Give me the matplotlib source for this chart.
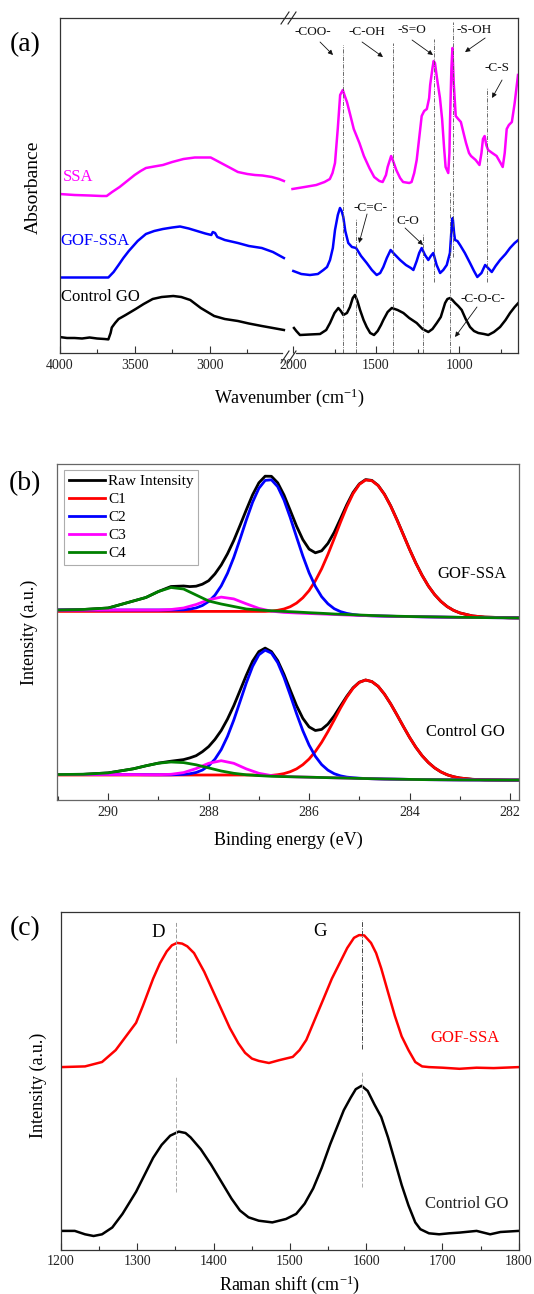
import matplotlib
matplotlib.use('Agg')
import matplotlib.pyplot as plt
from matplotlib.lines import Line2D
from matplotlib.ticker import FixedLocator, MultipleLocator

plt.rcParams['font.family'] = ['Liberation Serif', 'DejaVu Serif']
plt.rcParams['mathtext.fontset'] = 'custom'
plt.rcParams['mathtext.rm'] = 'Liberation Serif'
plt.rcParams['mathtext.it'] = 'Liberation Serif:italic'
plt.rcParams['mathtext.bf'] = 'Liberation Serif:bold'

# ---------------- (a) FTIR data: (wavenumber, absorbance a.u.) ----------------
SSA_LEFT = [(4000, 159), (3900, 158), (3800, 157.5), (3720, 157), (3686, 157), (3650, 161),
            (3600, 166), (3550, 172), (3500, 178), (3460, 182), (3425, 185), (3370, 186.5),
            (3312, 188), (3250, 191), (3175, 194), (3100, 195.5), (3050, 195.5), (2994, 195.5),
            (2950, 192), (2900, 188), (2850, 184), (2813, 181), (2750, 179), (2700, 178),
            (2650, 177.5), (2587, 176), (2540, 174), (2507, 172)]
GOF_LEFT = [(4000, 75.5), (3800, 75.5), (3675, 75.5), (3640, 81), (3607, 88), (3575, 95),
            (3539, 102), (3480, 112), (3425, 119), (3370, 122), (3312, 124), (3250, 125.5),
            (3198, 126.5), (3140, 124.5), (3085, 122), (3030, 119.5), (2990, 118), (2980, 121),
            (2965, 120), (2950, 116), (2900, 113), (2813, 110), (2740, 107), (2654, 105),
            (2580, 101), (2507, 95)]
CTRL_LEFT = [(4000, 16), (3950, 15), (3900, 15), (3850, 14.5), (3800, 15.5), (3750, 14.5),
             (3700, 14), (3675, 13.6), (3660, 20), (3652, 25.5), (3630, 30), (3607, 34),
             (3560, 38), (3493, 44), (3440, 49), (3380, 54), (3320, 56), (3243, 57), (3190, 56),
             (3130, 53), (3060, 45), (2971, 37), (2900, 34), (2813, 32), (2740, 29.5), (2654, 27),
             (2580, 25), (2507, 23)]
SSA_RIGHT = [(2003, 164), (1930, 166), (1860, 168), (1810, 171), (1778, 174), (1762, 180),
             (1747, 190), (1730, 225), (1716, 258), (1700, 263), (1688, 257), (1675, 251),
             (1655, 238), (1634, 224), (1600, 210), (1573, 197), (1540, 185), (1511, 176),
             (1480, 172), (1460, 171), (1440, 178), (1430, 186), (1409, 197), (1395, 191),
             (1378, 183), (1355, 175), (1337, 171), (1300, 170), (1286, 171), (1270, 180),
             (1255, 193), (1240, 215), (1225, 237), (1210, 242), (1194, 244), (1180, 255),
             (1174, 268), (1160, 285), (1153, 292), (1145, 290), (1133, 275), (1115, 255),
             (1102, 234), (1090, 205), (1081, 186), (1065, 180), (1058, 200), (1054, 234),
             (1046, 285), (1040, 305), (1032, 270), (1020, 237), (1005, 234), (989, 231),
             (970, 218), (958, 210), (940, 200), (928, 197), (900, 193), (877, 188), (865, 200),
             (856, 214), (846, 217), (836, 208), (825, 203), (800, 200), (774, 197), (750, 190),
             (737, 186), (725, 200), (713, 224), (700, 228), (682, 231), (665, 250), (645, 278)]
GOF_RIGHT = [(1998, 82), (1950, 79), (1898, 78), (1850, 79), (1817, 83), (1795, 86), (1777, 93),
             (1760, 105), (1747, 123), (1730, 138), (1717, 145), (1707, 142), (1697, 136),
             (1685, 122), (1667, 110), (1645, 106), (1620, 105), (1590, 97), (1556, 90),
             (1525, 83), (1496, 78), (1475, 80), (1456, 86), (1435, 95), (1412, 103), (1390, 99),
             (1355, 93), (1320, 88), (1290, 85), (1275, 83), (1255, 92), (1240, 100), (1225, 105),
             (1205, 98), (1185, 93), (1170, 97), (1155, 100), (1135, 88), (1114, 80), (1095, 83),
             (1074, 88), (1055, 100), (1045, 125), (1038, 135), (1030, 120), (1024, 113),
             (1010, 112), (994, 108), (965, 100), (934, 90), (910, 82), (890, 76), (865, 80),
             (843, 88), (825, 85), (803, 81), (780, 87), (753, 93), (720, 99), (693, 105),
             (665, 110), (643, 113)]
CTRL_RIGHT = [(1994, 25), (1980, 22), (1958, 18), (1900, 18.5), (1837, 19), (1800, 23), (1777, 30),
              (1750, 40), (1727, 45), (1712, 42), (1697, 38), (1675, 40), (1657, 46), (1640, 55),
              (1627, 58), (1612, 52), (1596, 43), (1575, 33), (1556, 26), (1535, 20), (1512, 18),
              (1490, 22), (1470, 28), (1456, 33), (1430, 41), (1405, 45), (1370, 43), (1335, 40),
              (1300, 35), (1255, 30), (1220, 24), (1185, 21), (1160, 24), (1134, 30), (1110, 36),
              (1084, 50), (1070, 54), (1054, 55), (1040, 53), (1024, 50), (1005, 47), (984, 43),
              (960, 34), (934, 26), (910, 22), (884, 20), (850, 19), (824, 18), (790, 21),
              (753, 26), (720, 33), (693, 40), (665, 46), (643, 50)]

FTIR_LINES_W = [1699, 1620, 1398, 1217, 1151, 1054, 1036, 831]
FTIR_LINES_TOP = [308, 134, 310, 120, 314, 161, 331, 266]
FTIR_LINES_BOT = [0, 0, 0, 0, 71, 0, 96, 71]

FTIR_ANN_TEXT = ['-COO-', '-C-OH', '-S=O', '-S-OH', '-C-S', '-C=C-', 'C-O', '-C-O-C-']
FTIR_ANN_TXT_XY = [(1880, 321), (1554, 321), (1283, 323), (910, 323), (771, 285),
                   (1536, 145), (1307, 132), (855, 54)]
FTIR_ANN_TAIL = [(1837, 311), (1584, 311), (1283, 313), (843, 315), (741, 273),
                 (1554, 139), (1325, 125), (892, 46)]
FTIR_ANN_HEAD = [(1759, 298), (1458, 296), (1157, 298), (964, 301), (801, 255),
                 (1602, 110), (1217, 108), (1024, 16)]

# ---------------- (b) XPS data ----------------
BE = [291.0, 290.5, 290.0, 289.5, 289.25, 289.0, 288.75, 288.5, 288.25, 288.0, 287.75, 287.5,
      287.25, 287.0, 286.75, 286.5, 286.25, 286.0, 285.75, 285.5, 285.25, 285.0, 284.75, 284.5,
      284.25, 284.0, 283.75, 283.5, 283.25, 283.0, 282.5, 282.0, 281.8]
BE_F = [291.0, 290.5, 290.0, 289.5, 289.25, 289.0, 288.75,
        288.5, 288.375, 288.25, 288.125, 288.0, 287.875, 287.75, 287.625, 287.5, 287.375, 287.25,
        287.125, 287.0, 286.875, 286.75, 286.625, 286.5, 286.375, 286.25, 286.125, 286.0,
        285.875, 285.75, 285.625, 285.5, 285.375, 285.25, 285.125, 285.0, 284.875, 284.75,
        284.625, 284.5, 284.375, 284.25, 284.125, 284.0, 283.875, 283.75, 283.625, 283.5,
        283.375, 283.25, 283.125, 283.0,
        282.75, 282.5, 282.0, 281.8]

GOF_RAW = [190, 190.5, 192, 199, 202.5, 208.5, 213.5,
           214.0, 213.4, 213.8, 215.8, 219.3, 226.1, 235, 246.2, 259.5, 274.6, 290.2, 305.2,
           317.2, 323.8, 323.7, 317.2, 305, 289.6, 273.9, 260.4, 250.9, 247.2, 249.2, 256.6,
           267.7, 281.3, 295.2, 307.5, 316.1, 320.4, 319.6, 314.6, 305.8, 294.1, 280.3, 265.6,
           250.8, 237, 224.7, 214, 205.4, 198.6, 193.4, 189.7, 187.1,
           184.1, 182.9, 182.2, 182.1]
GOF_C1 = [188.6] * 20 + [188.6, 188.9, 189.7, 191, 193.3, 196.9, 202.2, 209.4, 219.2, 231.2,
                         245.6, 261.4, 277.7, 293.1, 306.3, 315.6, 320, 319.3, 314.4, 305.6,
                         293.9, 280.1, 265.4, 250.7, 236.9, 224.6, 214, 205.4, 198.6, 193.4,
                         189.7, 187.1] + [184.1, 182.9, 182.2, 182.1]
GOF_C2 = [190, 190, 190, 190, 190, 190, 190,
          190.2, 190.9, 192.1, 194.5, 198.5, 204.8, 214.1, 226.7, 242.5, 260.9, 280, 297.8,
          311.7, 319.6, 320.2, 313.3, 300, 282.4, 263, 244.1, 227.2, 213.6, 203.3, 196.2, 191.3,
          188.4, 186.6, 185.5, 184.7, 184.4, 184.2, 184.05, 183.9, 183.75, 183.6, 183.5, 183.4,
          183.3, 183.2, 183.1, 183, 182.9, 182.8, 182.7, 182.6,
          182.5, 182.4, 182.2, 182.1]
GOF_C3 = [190, 190, 190, 190, 190, 190, 190.5, 192, 195.5, 200.2, 202.9, 201.1, 196.2, 191.6,
          188.8, 187.6, 187, 186.5, 186, 185.5, 185, 184.6, 184.2, 183.9, 183.6, 183.4, 183.2,
          183, 182.8, 182.6, 182.4, 182.2, 182.1]
GOF_C4 = [190, 190.5, 192, 199, 202.5, 208.5, 212.5, 211, 205, 199, 196, 193.5, 191, 190,
          189.2, 188.6, 188, 187.3, 186.7, 186, 185.5, 185, 184.5, 184.1, 183.8, 183.5, 183.3,
          183.1, 182.9, 182.7, 182.4, 182.2, 182.1]

GO_RAW = [25.5, 25.7, 27.1, 31.2, 34.2, 36.9, 38.8,
          40.4, 42.1, 44.3, 48.3, 53.4, 60.6, 69.5, 80.9, 94.3, 109.5, 124.8, 138.8, 148.4,
          151.9, 148.4, 139.4, 125.7, 109.9, 94.4, 81.7, 73.1, 69.5, 70.6, 75.9, 84.1, 94,
          103.7, 112.2, 117.8, 120, 118.4, 113.7, 105.9, 96.1, 85.1, 73.7, 62.7, 52.8, 44.3,
          37.5, 32.1, 28.1, 25.2, 23.3, 22,
          20.7, 20.2, 19.9, 19.9]
GO_C1 = [25] * 19 + [24.6, 24.5, 24.6, 25.3, 26.4, 28.3, 31.1, 35.3, 41, 48.5, 57.7, 68.4, 80,
                     91.9, 102.7, 111.7, 117.6, 120, 118.4, 113.7, 105.9, 96.1, 85.1, 73.7, 62.7,
                     52.8, 44.3, 37.5, 32.1, 28.1, 25.2, 23.3, 22] + [20.7, 20.2, 19.9, 19.9]
GO_C2 = [25.5, 25.5, 25.5, 25.4, 25.3, 25.2, 25.2,
         25.6, 26.25, 27.5, 29.95, 34.2, 40.8, 50.4, 63.6, 79.9, 98.4, 117.1, 133.6, 145.2,
         149.85, 146.9, 137.35, 122.6, 104.85, 86.4, 69.35, 54.9, 43.65, 35.4, 29.85, 26.3,
         24.15, 22.9, 22.25, 21.8, 21.45, 21.3, 21.15, 21.0, 20.9, 20.8, 20.7, 20.6, 20.5, 20.4,
         20.35, 20.3, 20.25, 20.2, 20.15, 20.1,
         20.05, 20.0, 19.9, 19.9]
GO_C3 = [25.5, 25.5, 25.5, 25.4, 25.3, 25.3, 25.7, 27.4, 31.4, 36.7, 39.3, 36.7, 31.1, 26.7,
         24.4, 23.5, 23.1, 22.8, 22.5, 22.2, 21.9, 21.6, 21.3, 21, 20.8, 20.6, 20.4, 20.3, 20.2,
         20.1, 20, 19.9, 19.9]
GO_C4 = [25.5, 25.7, 27.1, 31.2, 34.2, 36.8, 38.0, 37.4, 35.2, 32.1, 29, 26.7, 25.2, 24.4, 23.7,
         23.4, 23.1, 22.8, 22.5, 22.2, 21.9, 21.6, 21.3, 21, 20.8, 20.6, 20.4, 20.3, 20.2, 20.1,
         20, 19.9, 19.9]
XPS_LABELS = ['Raw Intensity', 'C1', 'C2', 'C3', 'C4']
XPS_COLORS = ['#000000', '#ff0000', '#0000ff', '#ff00ff', '#008000']

# ---------------- (c) Raman data ----------------
RAMAN_GOF_X = [1200, 1231.5, 1253.8, 1271.7, 1285.1, 1298.4, 1307.4, 1320.8, 1329.7, 1338.6,
               1345.4, 1352.1, 1358.8, 1365.5, 1374.4, 1387.8, 1398.9, 1410.1, 1421.3, 1432.4,
               1441.3, 1450.3, 1459.2, 1472.6, 1485.9, 1503.8, 1512.7, 1521.6, 1532.8, 1544,
               1555.1, 1566.3, 1575.2, 1584.1, 1590.8, 1597.5, 1606.4, 1613.1, 1619.8, 1628.7,
               1637.7, 1646.6, 1655.5, 1664.4, 1673.4, 1682.3, 1700.1, 1722.4, 1744.8, 1767.1,
               1800]
RAMAN_GOF = [182.5, 183.2, 187.6, 199.5, 213.2, 226.8, 243.8, 271, 286.3, 298.2,
             304.3, 306.7, 306, 303.3, 296.5, 277.8, 259.1, 240.4, 221.6, 206.4,
             196.8, 191, 188.7, 186.6, 189.4, 192.7, 199.5, 209.7, 230.2, 250.6,
             271, 288, 301.6, 311.8, 314.5, 314.2, 306.7, 296.5, 281.2, 257.4,
             233.6, 213.2, 199.5, 187.6, 183.2, 182.5, 181.9, 180.8, 181.9, 181.5,
             182.5]
RAMAN_GO_X = [1200, 1218.1, 1231.5, 1242.7, 1253.8, 1267.2, 1280.6, 1298.4, 1309.6, 1320.8,
              1331.9, 1343.1, 1354.3, 1363.2, 1369.9, 1383.3, 1396.7, 1410.1, 1423.5, 1434.6,
              1445.8, 1459.2, 1477, 1494.9, 1508.3, 1519.4, 1530.6, 1541.7, 1552.9, 1561.8,
              1570.7, 1579.7, 1586.4, 1594, 1602, 1610.9, 1619.8, 1628.7, 1637.7, 1646.6,
              1655.5, 1664.4, 1671.1, 1682.3, 1695.7, 1709, 1722.4, 1744.8, 1762.6, 1776.1,
              1800]
RAMAN_GO = [18.7, 18.7, 15.3, 13.6, 15.3, 22.1, 35.7, 57.8, 74.8, 91.8,
            104.7, 113.9, 118, 116.6, 112.2, 100.3, 85, 68, 51, 39.1,
            32.3, 28.9, 27.2, 30.6, 35.7, 45.9, 61.2, 81.6, 105.4, 122.4,
            139.4, 151.9, 160.4, 163.8, 158.7, 145.1, 132.6, 112.2, 88.4, 64.6,
            44.2, 27.2, 20.4, 16.3, 15.3, 16.3, 17, 18.7, 15.3, 17.6,
            18.7]
RAMAN_BANDS = ['D', 'G']
RAMAN_BAND_POS = [1351, 1594]

# ---------------- figure ----------------
W, H = 534, 1294
fig = plt.figure(figsize=(W / 100, H / 100), dpi=100)


def rect(x0, y0, x1, y1):
    return [x0 / W, 1 - y1 / H, (x1 - x0) / W, (y1 - y0) / H]


def fx(x):
    return x / W


def fy(y):
    return 1 - y / H


SPC = '#333333'


def style(ax):
    for s in ax.spines.values():
        s.set_color(SPC)
        s.set_linewidth(0.9)
    ax.tick_params(axis='x', which='major', direction='in', length=5, width=0.8, color=SPC,
                   labelsize=10, pad=4, top=False, labelcolor='#222222')
    ax.tick_params(axis='x', which='minor', direction='in', length=2.6, width=0.8, color=SPC,
                   top=False)
    ax.tick_params(axis='y', which='both', left=False, right=False, labelleft=False)


# ----- panel (a) -----
ax1 = fig.add_axes(rect(59.5, 17.5, 289, 353))
ax2 = fig.add_axes(rect(289, 17.5, 518, 353))
for ax in (ax1, ax2):
    style(ax)
    ax.set_ylim(0, 335.5)
ax1.set_xlim(4000, 2473)
ax2.set_xlim(2024, 645)
ax1.spines['right'].set_visible(False)
ax2.spines['left'].set_visible(False)
ax1.spines['bottom'].set_bounds(4000, 2520)
ax2.spines['bottom'].set_bounds(1982, 645)
ax1.xaxis.set_major_locator(FixedLocator([4000, 3500, 3000]))
ax1.xaxis.set_minor_locator(FixedLocator([3750, 3250, 2750]))
ax2.xaxis.set_major_locator(FixedLocator([2000, 1500, 1000]))
ax2.xaxis.set_minor_locator(FixedLocator([1750, 1250, 750]))

lw_a = 1.8
for ax, data in ((ax1, [(SSA_LEFT, '#ff00ff'), (GOF_LEFT, '#0000ff'), (CTRL_LEFT, '#000000')]),
                 (ax2, [(SSA_RIGHT, '#ff00ff'), (GOF_RIGHT, '#0000ff'),
                        (CTRL_RIGHT, '#000000')])):
    for pairs, col in data:
        xs, ys = zip(*pairs)
        ax.plot(xs, ys, color=col, lw=lw_a, solid_joinstyle='round')

ax2.vlines(FTIR_LINES_W, FTIR_LINES_BOT, FTIR_LINES_TOP, colors='#555555', lw=0.6,
           linestyles=[(0, (5, 1.5, 1, 1.5))])
for t, txy, tail, head in zip(FTIR_ANN_TEXT, FTIR_ANN_TXT_XY, FTIR_ANN_TAIL, FTIR_ANN_HEAD):
    ax2.text(txy[0], txy[1], t, fontsize=9.5, ha='center', va='center', color='#111111')
    ax2.annotate('', xy=head, xytext=tail,
                 arrowprops=dict(arrowstyle='-|>', color='#111111', lw=0.6, mutation_scale=7,
                                 shrinkA=0, shrinkB=0))

ax1.text(3980, 176, 'SSA', color='#ff00ff', fontsize=12, ha='left', va='center')
ax1.text(3993, 112, 'GOF-SSA', color='#0000ff', fontsize=12, ha='left', va='center')
ax1.text(3993, 56, 'Control GO', color='#000000', fontsize=12, ha='left', va='center')

# break marks
for yb in (24, 363):
    for xb in (281, 288):
        fig.add_artist(Line2D([fx(xb), fx(xb + 8)], [fy(yb), fy(yb - 12)], color='#222222',
                              lw=0.8))

fig.text(fx(25), fy(45), '(a)', fontsize=20, ha='center', va='center')
fig.text(fx(33), fy(187), 'Absorbance', fontsize=14, rotation=90, ha='center', va='center')
fig.text(fx(289), fy(398), 'Wavenumber (cm$^{-1}$)', fontsize=13, ha='center', va='center')

# ----- panel (b) -----
axb = fig.add_axes(rect(57, 464, 519, 800))
style(axb)
for s in axb.spines.values():
    s.set_color('#666666')
axb.set_xlim(291.02, 281.82)
axb.set_ylim(0, 336)
axb.xaxis.set_major_locator(MultipleLocator(2))
axb.xaxis.set_minor_locator(MultipleLocator(1))
lw_b = 2.0
gof_series = [(BE_F, GOF_RAW), (BE_F, GOF_C1), (BE_F, GOF_C2), (BE, GOF_C3), (BE, GOF_C4)]
go_series = [(BE_F, GO_RAW), (BE_F, GO_C1), (BE_F, GO_C2), (BE, GO_C3), (BE, GO_C4)]
handles = []
for (xs, ys), col, lab in zip(gof_series, XPS_COLORS, XPS_LABELS):
    h, = axb.plot(xs, ys, color=col, lw=lw_b, label=lab, solid_joinstyle='round')
    handles.append(h)
for (xs, ys), col in zip(go_series, XPS_COLORS):
    axb.plot(xs, ys, color=col, lw=lw_b, solid_joinstyle='round')
leg = axb.legend(handles=handles, loc='upper left', bbox_to_anchor=(fx(64), fy(470)),
                 bbox_transform=fig.transFigure, fontsize=11, frameon=True, fancybox=False,
                 edgecolor='#999999', handlelength=2.4, handletextpad=0.2, labelspacing=0.28,
                 borderpad=0.3, borderaxespad=0)
leg.get_frame().set_linewidth(0.8)
axb.text(282.76, 226, 'GOF-SSA', fontsize=12, ha='center', va='center')
axb.text(282.88, 68, 'Control GO', fontsize=12, ha='center', va='center')
fig.text(fx(25), fy(484), '(b)', fontsize=20, ha='center', va='center')
fig.text(fx(29), fy(632), 'Intensity (a.u.)', fontsize=13, rotation=90, ha='center', va='center')
fig.text(fx(288), fy(840), 'Binding energy (eV)', fontsize=13, ha='center', va='center')

# ----- panel (c) -----
axc = fig.add_axes(rect(61, 911.6, 518.7, 1249.6))
style(axc)
axc.set_xlim(1200, 1800)
axc.set_ylim(0, 338)
axc.xaxis.set_major_locator(MultipleLocator(100))
axc.xaxis.set_minor_locator(MultipleLocator(50))
axc.plot(RAMAN_GOF_X, RAMAN_GOF, color='#ff0000', lw=1.8, solid_joinstyle='round')
axc.plot(RAMAN_GO_X, RAMAN_GO, color='#000000', lw=1.8, solid_joinstyle='round')
axc.vlines([RAMAN_BAND_POS[0]], [207], [328.6], colors='#999999', lw=0.7, linestyles=[(0, (4, 2))])
axc.vlines([RAMAN_BAND_POS[0]], [57.6], [174], colors='#aaaaaa', lw=0.7, linestyles=[(0, (4, 2))])
axc.vlines([RAMAN_BAND_POS[1]], [200.6], [329.6], colors='#444444', lw=0.7,
           linestyles=[(0, (5, 1.5, 1, 1.5))])
axc.vlines([RAMAN_BAND_POS[1]], [63], [179], colors='#aaaaaa', lw=0.7, linestyles=[(0, (4, 2))])
axc.text(1327, 317, RAMAN_BANDS[0], fontsize=13.5, ha='center', va='center')
axc.text(1540, 318.6, RAMAN_BANDS[1], fontsize=13.5, ha='center', va='center')
axc.text(1730, 211.6, 'GOF-SSA', color='#ff0000', fontsize=12, ha='center', va='center')
axc.text(1731.5, 46, 'Contriol GO', color='#222222', fontsize=12, ha='center', va='center')
fig.text(fx(25), fy(929), '(c)', fontsize=20, ha='center', va='center')
fig.text(fx(38), fy(1085), 'Intensity (a.u.)', fontsize=13, rotation=90, ha='center', va='center')
fig.text(fx(290), fy(1285), 'Raman shift (cm$^{-1}$)', fontsize=13, ha='center', va='center')

fig.savefig('out.png', dpi=100)
